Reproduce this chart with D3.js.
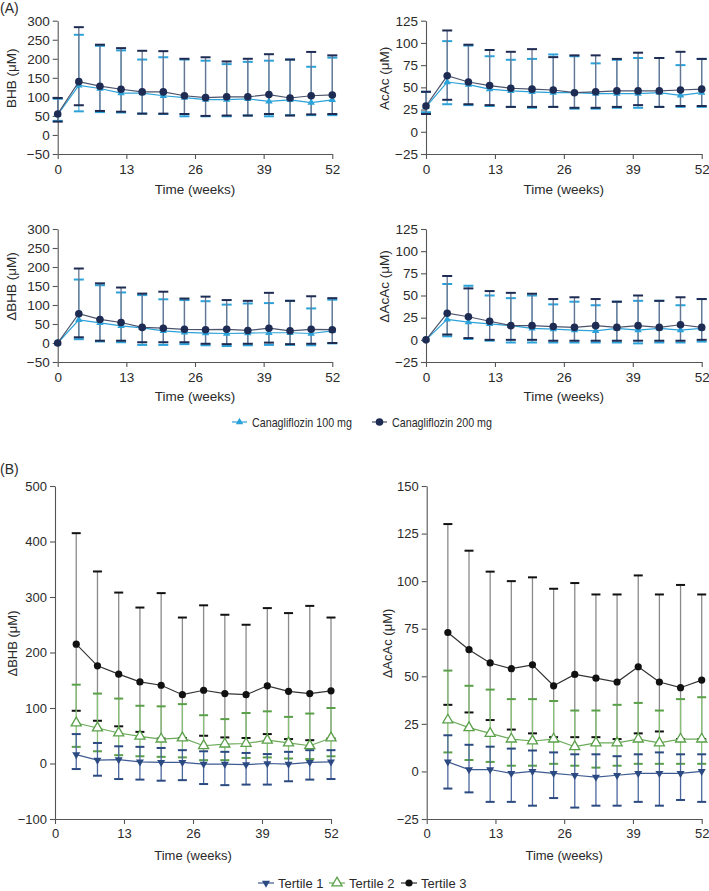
<!DOCTYPE html>
<html><head><meta charset="utf-8">
<script src="https://cdn.jsdelivr.net/npm/d3@7"></script>
<style>
html,body{margin:0;padding:0;background:#fff;}
svg{display:block;font-family:"Liberation Sans",Arial,sans-serif;}
</style></head>
<body><svg id="c" width="709" height="891"></svg>
<script>
// ---------- DATA ----------
const weeksA = [0,4,8,12,16,20,24,28,32,36,40,44,48,52];
const weeksB = [4,8,12,16,20,24,28,32,36,40,44,48,52];
const xTicks = [0,13,26,39,52];

const bhb100   = [53,130,122,110,110,103,98,93,93,95,88,92,85,92];
const bhb100Hi = [95,263,234,222,198,204,198,195,186,192,195,198,179,203];
const bhb100Lo = [37,62,60,59,56,55,49,49,49,51,49,52,52,52];
const bhb200   = [55,140,128,120,113,113,103,98,100,100,106,97,103,105];
const bhb200Hi = [97,283,237,228,221,220,200,204,193,200,212,198,218,209];
const bhb200Lo = [35,78,63,61,56,56,55,50,51,51,55,51,54,55];

const acac100   = [28,56,53,48,46,45,44,44,43,43,43,44,41,44];
const acac100Hi = [45,102,97,85,81,82,87,85,77,81,83,83,75,82];
const acac100Lo = [22,31,30,29,28,27,28,26,26,27,27,28,28,28];
const acac200   = [29,63,56,52,49,48,47,44,45,46,46,46,47,48];
const acac200Hi = [45,114,98,92,90,93,84,86,86,82,89,83,90,82];
const acac200Lo = [20,36,31,30,28,28,28,27,27,28,30,28,29,29];

const dbhb100   = [0,61,53,45,40,32,28,26,25,26,27,27,25,32];
const dbhb100Hi = [0,167,152,133,126,115,113,110,101,104,105,111,91,114];
const dbhb100Lo = [0,10,4,2,-5,-5,-3,-6,-8,-6,-5,-5,-6,-1];
const dbhb200   = [0,77,62,54,41,39,36,35,36,33,39,32,36,35];
const dbhb200Hi = [0,196,157,146,130,135,117,122,113,111,132,111,123,118];
const dbhb200Lo = [0,15,6,6,2,2,2,-2,-3,-2,1,-3,-2,0];

const dacac100   = [0,23,20,18,16,13,12,11,10,13,11,13,11,13];
const dacac100Hi = [0,63,61,50,47,50,40,43,39,43,44,44,39,46];
const dacac100Lo = [0,4,1,-1,-3,-3,-3,-3,-3,-3,-4,-3,-3,-2];
const dacac200   = [0,30,26,21,16,16,15,14,16,14,16,14,17,14];
const dacac200Hi = [0,72,58,55,53,52,46,48,46,43,50,44,48,46];
const dacac200Lo = [0,6,2,0,0,0,-1,-1,-1,-1,-1,-1,-1,0];

const t1Bhb   = [16,6,7,3,2,2,-1,-1,-2,0,-1,2,3];
const t1BhbHi = [53,37,31,30,28,24,22,21,19,17,21,24,24];
const t1BhbLo = [-10,-22,-28,-29,-31,-30,-37,-39,-38,-38,-32,-29,-28];
const t2Bhb   = [73,64,55,49,44,46,32,35,36,42,37,32,46];
const t2BhbHi = [142,126,117,104,103,107,87,80,91,94,84,90,100];
const t2BhbLo = [30,22,15,13,12,11,6,6,10,11,9,8,13];
const t3Bhb   = [215,176,161,147,141,124,132,126,124,140,130,126,131];
const t3BhbHi = [415,346,308,281,307,263,285,268,250,280,271,284,263];
const t3BhbLo = [95,77,67,57,45,46,50,47,46,53,44,42,45];

const t1Acac   = [5,1,1,-1,0,-1,-2,-3,-2,-1,-1,-1,0];
const t1AcacHi = [19,14,13,12,11,10,9,9,8,9,10,9,9];
const t1AcacLo = [-9,-11,-16,-16,-18,-14,-19,-18,-18,-16,-18,-15,-16];
const t2Acac   = [27,23,20,17,16,17,13,15,15,17,15,17,17];
const t2AcacHi = [53,45,43,38,38,37,32,32,35,36,32,38,39];
const t2AcacLo = [10,6,5,3,3,4,3,2,3,4,4,4,4];
const t3Acac   = [73,64,57,54,56,45,51,49,47,55,47,44,48];
const t3AcacHi = [130,116,105,100,102,96,99,93,93,103,93,98,93];
const t3AcacLo = [35,31,27,22,20,18,18,18,17,20,21,17,17];

const ticksBhbA = [-50,0,50,100,150,200,250,300];
const ticksAcacA = [-25,0,25,50,75,100,125];
const ticksBhbB = [-100,0,100,200,300,400,500];
const ticksAcacB = [-25,0,25,50,75,100,125,150];

const legendA = ["Canagliflozin 100 mg","Canagliflozin 200 mg"];
const legendB = ["Tertile 1","Tertile 2","Tertile 3"];

// ---------- STYLES ----------
const S100 = {line:"#2ba2da", stem:"#5db6e0", cap:"#2ba2da", fill:"#2ba2da", stroke:"none", marker:"tri", size:24};
const S200 = {line:"#4b536b", stem:"#6b7590", cap:"#1e2b52", fill:"#1e2b52", stroke:"none", marker:"circle", r:3.8};
const ST1 = {line:"#3d5a92", stem:"#4a679c", cap:"#2c4a82", fill:"#2c4a82", stroke:"none", marker:"tridown", size:28};
const ST2 = {line:"#6aaa58", stem:"#88bf78", cap:"#5aa048", fill:"#fff", stroke:"#5aa048", marker:"tri", size:44};
const ST3 = {line:"#333", stem:"#8a8a8a", cap:"#111", fill:"#111", stroke:"none", marker:"circle", r:3.6};

const svg = d3.select("#c");
const axisColor = "#555", textColor = "#2a2a2a";

function marker(g, st, x, y){
  if(st.marker==="circle"){
    g.append("circle").attr("cx",x).attr("cy",y).attr("r",st.r).attr("fill",st.fill);
  } else {
    const p = d3.symbol().type(d3.symbolTriangle).size(st.size)();
    g.append("path").attr("d",p)
      .attr("transform",`translate(${x},${y})`+(st.marker==="tridown"?" rotate(180)":""))
      .attr("fill",st.fill).attr("stroke",st.stroke).attr("stroke-width",1.3);
  }
}

function panel(cfg){
  const x = d3.scaleLinear().domain([0,52]).range([cfg.x0,cfg.x1]);
  const y = d3.scaleLinear().domain([cfg.ticks[0],cfg.ticks[cfg.ticks.length-1]]).range([cfg.yBot,cfg.yTop]);
  const g = svg.append("g");
  const ax = g.append("g").attr("transform",`translate(${cfg.x0},0)`)
    .call(d3.axisLeft(y).tickValues(cfg.ticks).tickSize(5).tickSizeOuter(0).tickPadding(3));
  const bx = g.append("g").attr("transform",`translate(0,${cfg.yBot})`)
    .call(d3.axisBottom(x).tickValues(xTicks).tickSize(5).tickSizeOuter(0).tickPadding(5));
  [ax,bx].forEach(a=>{
    a.selectAll("path,line").attr("stroke",axisColor).attr("stroke-width",1.1);
    a.selectAll("text").attr("fill",textColor).attr("font-size",cfg.fs).attr("font-family","Liberation Sans, Arial, sans-serif");
  });
  g.append("text").attr("x",(cfg.x0+cfg.x1)/2).attr("y",cfg.yBot+cfg.tOff)
    .attr("text-anchor","middle").attr("font-size",cfg.fs).attr("fill",textColor).text("Time (weeks)");
  g.append("text").attr("transform",`translate(${cfg.lx},${(cfg.yTop+cfg.yBot)/2-9}) rotate(-90)`)
    .attr("text-anchor","middle").attr("dy","0.35em").attr("font-size",cfg.fs).attr("fill",textColor).text(cfg.ylabel);
  const cw = cfg.cap/2;
  // error bars
  cfg.series.forEach(s=>{
    const eg = g.append("g");
    s.weeks.forEach((w,i)=>{
      if(s.hi[i]===s.lo[i]) return;
      eg.append("line").attr("x1",x(w)).attr("x2",x(w)).attr("y1",y(s.hi[i])).attr("y2",y(s.lo[i]))
        .attr("stroke",s.st.stem).attr("stroke-width",1.3);
      [s.hi[i],s.lo[i]].forEach(v=>{
        eg.append("line").attr("x1",x(w)-cw).attr("x2",x(w)+cw).attr("y1",y(v)).attr("y2",y(v))
          .attr("stroke",s.st.cap).attr("stroke-width",2);
      });
    });
  });
  // lines and markers
  cfg.series.forEach(s=>{
    const lg = g.append("g");
    lg.append("path").attr("d",d3.line().x((d,i)=>x(s.weeks[i])).y(d=>y(d))(s.mean))
      .attr("fill","none").attr("stroke",s.st.line).attr("stroke-width",1.2);
    s.weeks.forEach((w,i)=>marker(lg,s.st,x(w),y(s.mean[i])));
  });
}

const fsA = 13.5, fsB = 13;
// Panel A
panel({x0:57.7,x1:332.3,yTop:20.7,yBot:154,ticks:ticksBhbA,fs:fsA,tOff:40,lx:11,ylabel:"BHB (\u03bcM)",cap:10,
  series:[{weeks:weeksA,mean:bhb100,hi:bhb100Hi,lo:bhb100Lo,st:S100},{weeks:weeksA,mean:bhb200,hi:bhb200Hi,lo:bhb200Lo,st:S200}]});
panel({x0:426,x1:701.7,yTop:20.7,yBot:154,ticks:ticksAcacA,fs:fsA,tOff:40,lx:384,ylabel:"AcAc (\u03bcM)",cap:10,
  series:[{weeks:weeksA,mean:acac100,hi:acac100Hi,lo:acac100Lo,st:S100},{weeks:weeksA,mean:acac200,hi:acac200Hi,lo:acac200Lo,st:S200}]});
panel({x0:57.7,x1:332.3,yTop:229,yBot:362,ticks:ticksBhbA,fs:fsA,tOff:39,lx:11,ylabel:"\u0394BHB (\u03bcM)",cap:10,
  series:[{weeks:weeksA,mean:dbhb100,hi:dbhb100Hi,lo:dbhb100Lo,st:S100},{weeks:weeksA,mean:dbhb200,hi:dbhb200Hi,lo:dbhb200Lo,st:S200}]});
panel({x0:426,x1:701.7,yTop:229,yBot:362,ticks:ticksAcacA,fs:fsA,tOff:39,lx:384,ylabel:"\u0394AcAc (\u03bcM)",cap:10,
  series:[{weeks:weeksA,mean:dacac100,hi:dacac100Hi,lo:dacac100Lo,st:S100},{weeks:weeksA,mean:dacac200,hi:dacac200Hi,lo:dacac200Lo,st:S200}]});
// Panel B
panel({x0:55,x1:331,yTop:486,yBot:819,ticks:ticksBhbB,fs:fsB,tOff:41,lx:12,ylabel:"\u0394BHB (\u03bcM)",cap:9,
  series:[{weeks:weeksB,mean:t3Bhb,hi:t3BhbHi,lo:t3BhbLo,st:ST3},{weeks:weeksB,mean:t2Bhb,hi:t2BhbHi,lo:t2BhbLo,st:ST2},{weeks:weeksB,mean:t1Bhb,hi:t1BhbHi,lo:t1BhbLo,st:ST1}]});
panel({x0:426.7,x1:701.7,yTop:486,yBot:819,ticks:ticksAcacB,fs:fsB,tOff:41,lx:387,ylabel:"\u0394AcAc (\u03bcM)",cap:9,
  series:[{weeks:weeksB,mean:t3Acac,hi:t3AcacHi,lo:t3AcacLo,st:ST3},{weeks:weeksB,mean:t2Acac,hi:t2AcacHi,lo:t2AcacLo,st:ST2},{weeks:weeksB,mean:t1Acac,hi:t1AcacHi,lo:t1AcacLo,st:ST1}]});

// panel letters
svg.append("text").attr("x",0).attr("y",13).attr("font-size",14).attr("fill",textColor).text("(A)");
svg.append("text").attr("x",0).attr("y",474).attr("font-size",14).attr("fill",textColor).text("(B)");

// Legend A
const legA = svg.append("g");
const legAPos = [{x:232,st:S100},{x:372,st:S200}];
legendA.forEach((t,i)=>{
  const p = legAPos[i], yy = 422;
  legA.append("line").attr("x1",p.x).attr("x2",p.x+15).attr("y1",yy).attr("y2",yy).attr("stroke",p.st.line).attr("stroke-width",1.2);
  marker(legA,p.st,p.x+7.5,yy);
  legA.append("text").attr("x",p.x+20).attr("y",yy).attr("dy","0.35em")
    .attr("font-family","'Liberation Sans Narrow','Arial Narrow',sans-serif").attr("font-size",13.5)
    .attr("textLength",100).attr("lengthAdjust","spacingAndGlyphs").attr("fill",textColor).text(t);
});
// Legend B
const legB = svg.append("g");
const legBPos = [{x:258,st:ST1},{x:329,st:ST2},{x:401,st:ST3}];
legendB.forEach((t,i)=>{
  const p = legBPos[i], yy = 883;
  legB.append("line").attr("x1",p.x).attr("x2",p.x+16).attr("y1",yy).attr("y2",yy).attr("stroke",p.st.line).attr("stroke-width",1.2);
  marker(legB,p.st,p.x+8,yy);
  legB.append("text").attr("x",p.x+20).attr("y",yy).attr("dy","0.35em").attr("font-size",13).attr("fill",textColor).text(t);
});
</script></body></html>
